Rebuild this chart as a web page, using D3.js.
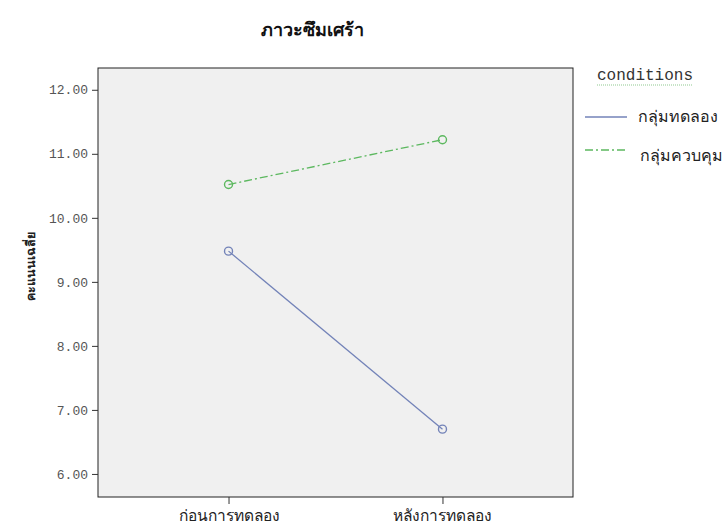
<!DOCTYPE html>
<html>
<head>
<meta charset="utf-8">
<script src="https://cdn.jsdelivr.net/npm/d3@7"></script>
<style>
  body { margin: 0; background: #fff; }
  svg text { font-family: "Noto Sans", "DejaVu Sans", sans-serif; }
</style>
</head>
<body>
<div id="chart"></div>
<script>
'use strict';

// data
const categories = ['ก่อนการทดลอง', 'หลังการทดลอง'];
const seriesNames = ['กลุ่มทดลอง', 'กลุ่มควบคุม'];
const experimentValues = [9.48, 6.70];
const controlValues = [10.52, 11.22];
const yTicks = [6, 7, 8, 9, 10, 11, 12];

const width = 723, height = 527;
const margin = { top: 68, right: 150, bottom: 30, left: 98 };
const plotW = 573 - margin.left;
const plotH = 497 - margin.top;

const series = [
    { name: seriesNames[0], values: experimentValues, color: '#7383b8', dash: null },
    { name: seriesNames[1], values: controlValues, color: '#5cb85f', dash: '8,3,2,3' }
];

const svg = d3.select('#chart').append('svg')
    .attr('width', width)
    .attr('height', height);

const chart = svg.append('g')
    .attr('transform', `translate(${margin.left},${margin.top})`);

const x = d3.scalePoint().domain(categories).range([0, plotW]).padding(0.61);
const y = d3.scaleLinear().domain([5.64, 12.34]).range([plotH, 0]);

// plot background
chart.append('rect')
    .attr('width', plotW)
    .attr('height', plotH)
    .attr('fill', '#f0f0f0')
    .attr('stroke', '#222')
    .attr('stroke-width', 1);

// y axis
const yAxis = chart.append('g')
    .call(d3.axisLeft(y).tickValues(yTicks).tickFormat(d3.format('.2f')).tickSize(6).tickSizeOuter(0).tickPadding(4));
yAxis.select('.domain').remove();
yAxis.selectAll('line').attr('stroke', '#333');
yAxis.selectAll('text')
    .attr('fill', '#555')
    .style('font-family', '"Liberation Mono", "DejaVu Sans Mono", monospace')
    .style('font-size', '13px');

// x axis
const xAxis = chart.append('g')
    .attr('transform', `translate(0,${plotH})`)
    .call(d3.axisBottom(x).tickSize(7).tickSizeOuter(0).tickPadding(6));
xAxis.select('.domain').remove();
xAxis.selectAll('line').attr('stroke', '#333');
xAxis.selectAll('text')
    .attr('fill', '#222')
    .style('font-size', '15.5px');

// lines
const line = d3.line()
    .x((d, i) => x(categories[i]))
    .y(d => y(d));

series.forEach(s => {
    chart.append('path')
        .datum(s.values)
        .attr('d', line)
        .attr('fill', 'none')
        .attr('stroke', s.color)
        .attr('stroke-width', 1.3)
        .attr('stroke-dasharray', s.dash);

    chart.selectAll(null)
        .data(s.values)
        .join('circle')
        .attr('cx', (d, i) => x(categories[i]))
        .attr('cy', d => y(d))
        .attr('r', 4)
        .attr('fill', 'none')
        .attr('stroke', s.color)
        .attr('stroke-width', 1.4);
});

// title
svg.append('text')
    .attr('x', 312)
    .attr('y', 36)
    .attr('text-anchor', 'middle')
    .style('font-size', '18px')
    .style('font-weight', 'bold')
    .attr('fill', '#111')
    .text('ภาวะซึมเศร้า');

// y label
svg.append('text')
    .attr('transform', `translate(35,${margin.top + plotH / 2 - 16}) rotate(-90)`)
    .attr('text-anchor', 'middle')
    .style('font-size', '12.5px')
    .style('font-weight', 'bold')
    .attr('fill', '#222')
    .text('คะแนนเฉลี่ย');

// legend
const legend = svg.append('g').attr('transform', 'translate(585,0)');
legend.append('text')
    .attr('x', 12)
    .attr('y', 80)
    .style('font-family', '"Liberation Mono", "DejaVu Sans Mono", monospace')
    .style('font-size', '16px')
    .attr('fill', '#333')
    .text('conditions');
legend.append('line')
    .attr('x1', 12).attr('x2', 108)
    .attr('y1', 85).attr('y2', 85)
    .attr('stroke', '#8fc98f')
    .attr('stroke-width', 1)
    .attr('stroke-dasharray', '1,1');

series.forEach((s, i) => {
    const ly = 117 + i * 33;
    legend.append('line')
        .attr('x1', 0).attr('x2', 42)
        .attr('y1', ly).attr('y2', ly)
        .attr('stroke', s.color)
        .attr('stroke-width', 1.3)
        .attr('stroke-dasharray', s.dash);
    legend.append('text')
        .attr('x', 53 + i * 2)
        .attr('y', ly + 5 + i * 6)
        .style('font-size', '16px')
        .attr('fill', '#222')
        .text(s.name);
});
</script>
</body>
</html>
